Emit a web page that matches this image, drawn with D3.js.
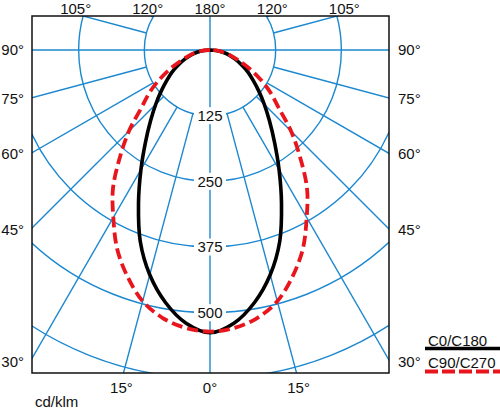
<!DOCTYPE html>
<html>
<head>
<meta charset="utf-8">
<script src="https://cdn.jsdelivr.net/npm/d3@7"></script>
<style>
  body { margin: 0; background: #fff; }
  svg text { font-family: "Liberation Sans", Arial, sans-serif; font-size: 15px; fill: #111; }
</style>
</head>
<body>
<svg id="chart" width="500" height="409"></svg>
<script>
// gamma angles, degrees from nadir
const angles = [0, 5, 10, 15, 20, 25, 30, 35, 40, 45, 50, 55, 60, 65, 70, 75, 80, 85, 90];
// intensity in cd/klm
const c0c180 = [538, 522, 488, 443, 388, 322, 263, 214, 176, 146, 121, 100, 83, 66, 51, 38, 25, 12, 0];
const c90c270 = [536, 531, 518, 495, 459, 418, 368, 322, 267, 218, 170, 140, 110, 82, 58, 41, 27, 14, 0];

const rings = [125, 250, 375, 500, 625, 750];
const ringLabels = [125, 250, 375, 500];
const spokes = [0, 15, 30, 45, 60, 75, 90, 105, 120, 135, 150, 165, 180, 195, 210, 225, 240, 255, 270, 285, 300, 315, 330, 345];
const topTicks = [-105, -120, 180, 120, 105];
const sideTicks = [90, 75, 60, 45, 30];
const bottomTicks = [-15, 0, 15];

const cx = 210, cy = 50;
const frame = { x0: 32, y0: 16, x1: 389, y1: 373 };
const gridColor = "#1c88d0";
const redColor = "#e8161c";

const svg = d3.select("#chart");
const r = d3.scaleLinear().domain([0, 500]).range([0, 262.7]);
const rad = (a) => a * Math.PI / 180;

// point along a direction (signed angle, + to the right, 0 down)
const pt = (a, px) => [cx + px * Math.sin(rad(a)), cy + px * Math.cos(rad(a))];

svg.append("defs").append("clipPath").attr("id", "clip")
  .append("rect")
  .attr("x", frame.x0).attr("y", frame.y0)
  .attr("width", frame.x1 - frame.x0).attr("height", frame.y1 - frame.y0);

const grid = svg.append("g").attr("clip-path", "url(#clip)")
  .attr("stroke", gridColor).attr("stroke-width", 1.4).attr("fill", "none");

grid.selectAll("circle").data(rings).join("circle")
  .attr("cx", cx).attr("cy", cy).attr("r", (d) => r(d));

grid.selectAll("line").data(spokes).join("line")
  .each(function (a) {
    const start = a % 90 === 0 ? 0 : r(125);
    const p0 = pt(a, start), p1 = pt(a, r(900));
    d3.select(this).attr("x1", p0[0]).attr("y1", p0[1]).attr("x2", p1[0]).attr("y2", p1[1]);
  });

// value labels on the nadir axis
const lab = svg.append("g");
ringLabels.forEach((v) => {
  const y = cy + r(v);
  lab.append("rect").attr("x", cx - 16).attr("y", y - 8.5)
    .attr("width", 32).attr("height", 17).attr("fill", "#fff");
  lab.append("text").attr("x", cx).attr("y", y + 5.4)
    .attr("text-anchor", "middle").text(v);
});

// curves
const radial = d3.lineRadial()
  .angle((d) => Math.PI - rad(d.a))
  .radius((d) => r(d.v))
  .curve(d3.curveCatmullRom);

function shape(values) {
  const left = angles.map((g, i) => ({ a: -g, v: values[i] })).reverse();
  const right = angles.map((g, i) => ({ a: g, v: values[i] })).slice(1);
  return left.concat(right);
}

const curves = svg.append("g").attr("transform", `translate(${cx},${cy})`);

curves.append("path").attr("d", radial(shape(c0c180)))
  .attr("fill", "none").attr("stroke", "#000").attr("stroke-width", 3.6);

curves.append("path").attr("d", radial(shape(c90c270)))
  .attr("fill", "none").attr("stroke", redColor).attr("stroke-width", 3.8)
  .attr("stroke-dasharray", "11,5");

// frame
svg.append("rect")
  .attr("x", frame.x0).attr("y", frame.y0)
  .attr("width", frame.x1 - frame.x0).attr("height", frame.y1 - frame.y0)
  .attr("fill", "none").attr("stroke", "#111").attr("stroke-width", 1.5);

// edge labels where the spokes leave the frame
const ticks = svg.append("g");
topTicks.forEach((a) => {
  const t = (14 - cy) / Math.cos(rad(a));
  ticks.append("text").attr("x", cx + t * Math.sin(rad(a))).attr("y", 13.5)
    .attr("text-anchor", "middle").text(Math.abs(a) + "°");
});
sideTicks.forEach((a) => {
  const t = (cx - 30) / Math.sin(rad(a));
  const y = cy + t * Math.cos(rad(a));
  ticks.append("text").attr("x", 24).attr("y", y + 5.4)
    .attr("text-anchor", "end").text(a + "°");
  ticks.append("text").attr("x", 398).attr("y", y + 5.4)
    .attr("text-anchor", "start").text(a + "°");
});
bottomTicks.forEach((a) => {
  const t = (375 - cy) / Math.cos(rad(a));
  ticks.append("text").attr("x", cx + t * Math.sin(rad(a)) + Math.sign(a) * 1.5).attr("y", 393)
    .attr("text-anchor", "middle").text(Math.abs(a) + "°");
});

svg.append("text").attr("x", 35).attr("y", 407).text("cd/klm");

// legend
const legend = svg.append("g");
legend.append("text").attr("x", 428).attr("y", 345.5).text("C0/C180");
legend.append("line").attr("x1", 425).attr("x2", 500).attr("y1", 348.5).attr("y2", 348.5)
  .attr("stroke", "#000").attr("stroke-width", 3.5);
legend.append("text").attr("x", 428).attr("y", 368).text("C90/C270");
legend.append("line").attr("x1", 425).attr("x2", 500).attr("y1", 371.5).attr("y2", 371.5)
  .attr("stroke", redColor).attr("stroke-width", 3.8).attr("stroke-dasharray", "13,4");
</script>
</body>
</html>
